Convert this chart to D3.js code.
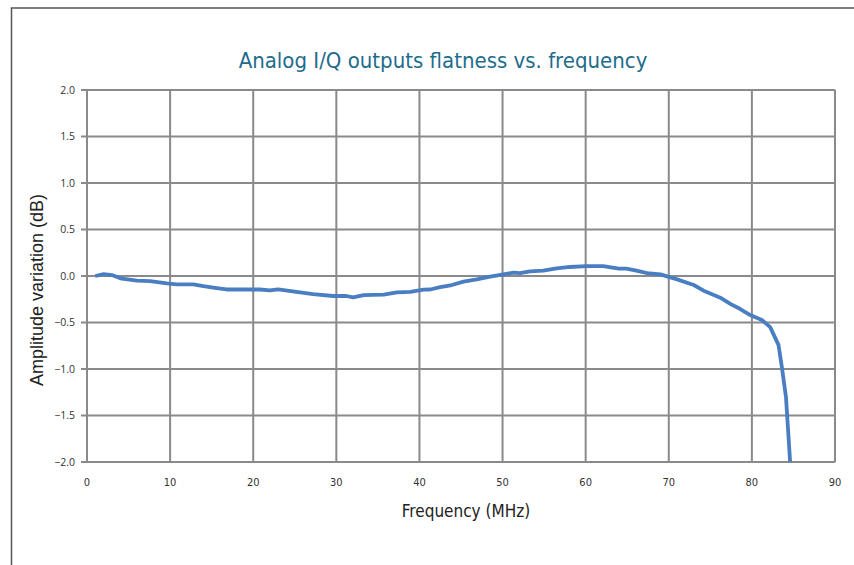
<!DOCTYPE html>
<html>
<head>
<meta charset="utf-8">
<script src="https://cdn.jsdelivr.net/npm/d3@7"></script>
<style>
  body { margin: 0; background: #fff; }
  svg { display: block; }
  .narrow { font-family: "Liberation Sans Narrow", "DejaVu Sans Condensed", "DejaVu Sans", sans-serif; font-stretch: condensed; }
</style>
</head>
<body>
<svg width="854" height="565"></svg>
<script>
// frequency in MHz, amplitude variation in dB
var freq = [1, 2, 3, 4, 6, 7.6, 9.6, 10.8, 12.8, 14, 15.6, 16.8, 20.8, 22, 23, 25.2, 27.2, 29.6, 31.2, 32, 33.3,
            35.7, 37.3, 38.9, 40.5, 41.3, 42.5, 43.9, 45.3, 46.9, 48.5, 50.1, 51.3, 52.1, 53.3, 54.9, 56.5, 58.1,
            60.1, 62.1, 64, 64.9, 66.1, 67.4, 69, 71, 73, 74.2, 76.2, 77.4, 78.6, 79.8, 81.2, 82.2, 83.2, 83.6, 84.1, 84.6];
var ampl = [0.0, 0.02, 0.01, -0.025, -0.05, -0.055, -0.08, -0.09, -0.09, -0.11, -0.13, -0.145, -0.145, -0.155, -0.145, -0.17, -0.195, -0.215, -0.215, -0.23, -0.205,
            -0.2, -0.175, -0.17, -0.147, -0.145, -0.12, -0.097, -0.06, -0.036, -0.007, 0.018, 0.036, 0.03, 0.05, 0.057, 0.083, 0.097,
            0.107, 0.107, 0.08, 0.08, 0.057, 0.032, 0.018, -0.036, -0.097, -0.158, -0.233, -0.30, -0.355, -0.42, -0.473, -0.55, -0.74, -0.975, -1.30, -2.0];
var xTicks = [0, 10, 20, 30, 40, 50, 60, 70, 80, 90];
var yTicks = [2.0, 1.5, 1.0, 0.5, 0.0, -0.5, -1.0, -1.5, -2.0];

var svg = d3.select("svg");

// outer frame (only top and left visible)
svg.append("path")
    .attr("d", "M11.5,565 L11.5,8 L854,8")
    .attr("fill", "none")
    .attr("stroke", "#555")
    .attr("stroke-width", 1.5);

var x = d3.scaleLinear().domain([0, 90]).range([87, 835]);
var y = d3.scaleLinear().domain([-2, 2]).range([462, 90]);

// grid
var grid = svg.append("g").attr("stroke", "#8a8a8a").attr("stroke-width", 2);
grid.selectAll(".vg").data(xTicks).enter().append("line")
    .attr("x1", d => x(d)).attr("x2", d => x(d))
    .attr("y1", y(2)).attr("y2", y(-2));
grid.selectAll(".hg").data(yTicks).enter().append("line")
    .attr("x1", x(0) - 6).attr("x2", x(90))
    .attr("y1", d => y(d)).attr("y2", d => y(d));

// y tick labels
svg.append("g").selectAll("text").data(yTicks).enter().append("text")
    .attr("x", 75)
    .attr("y", d => y(d))
    .attr("dy", "0.35em")
    .attr("text-anchor", "end")
    .style("font-family", "'Open Sans', sans-serif")
    .style("font-size", "10.5px")
    .attr("fill", "#333")
    .text(d => d3.format(".1f")(d));

// x tick labels
svg.append("g").selectAll("text").data(xTicks).enter().append("text")
    .attr("class", "narrow")
    .attr("x", d => x(d))
    .attr("y", 486)
    .attr("text-anchor", "middle")
    .style("font-size", "11px")
    .attr("fill", "#333")
    .text(d => d);

// curve
var line = d3.line()
    .x(d => x(d[0]))
    .y(d => y(d[1]));

svg.append("path")
    .datum(freq.map((f, i) => [f, ampl[i]]))
    .attr("d", line)
    .attr("fill", "none")
    .attr("stroke", "#4a7ec2")
    .attr("stroke-width", 3.8)
    .attr("stroke-linejoin", "round");

// title
svg.append("text")
    .attr("class", "narrow")
    .attr("x", 443)
    .attr("y", 68)
    .attr("text-anchor", "middle")
    .style("font-size", "22px")
    .attr("fill", "#1e6c8c")
    .text("Analog I/Q outputs flatness vs. frequency");

// axis titles
svg.append("text")
    .attr("class", "narrow")
    .attr("x", 466)
    .attr("y", 517)
    .attr("text-anchor", "middle")
    .style("font-size", "17px")
    .attr("fill", "#222")
    .text("Frequency (MHz)");

svg.append("text")
    .attr("transform", "translate(43,290) rotate(-90)")
    .attr("text-anchor", "middle")
    .style("font-family", "'Liberation Sans', sans-serif")
    .style("font-size", "18px")
    .attr("fill", "#222")
    .text("Amplitude variation (dB)");
</script>
</body>
</html>
